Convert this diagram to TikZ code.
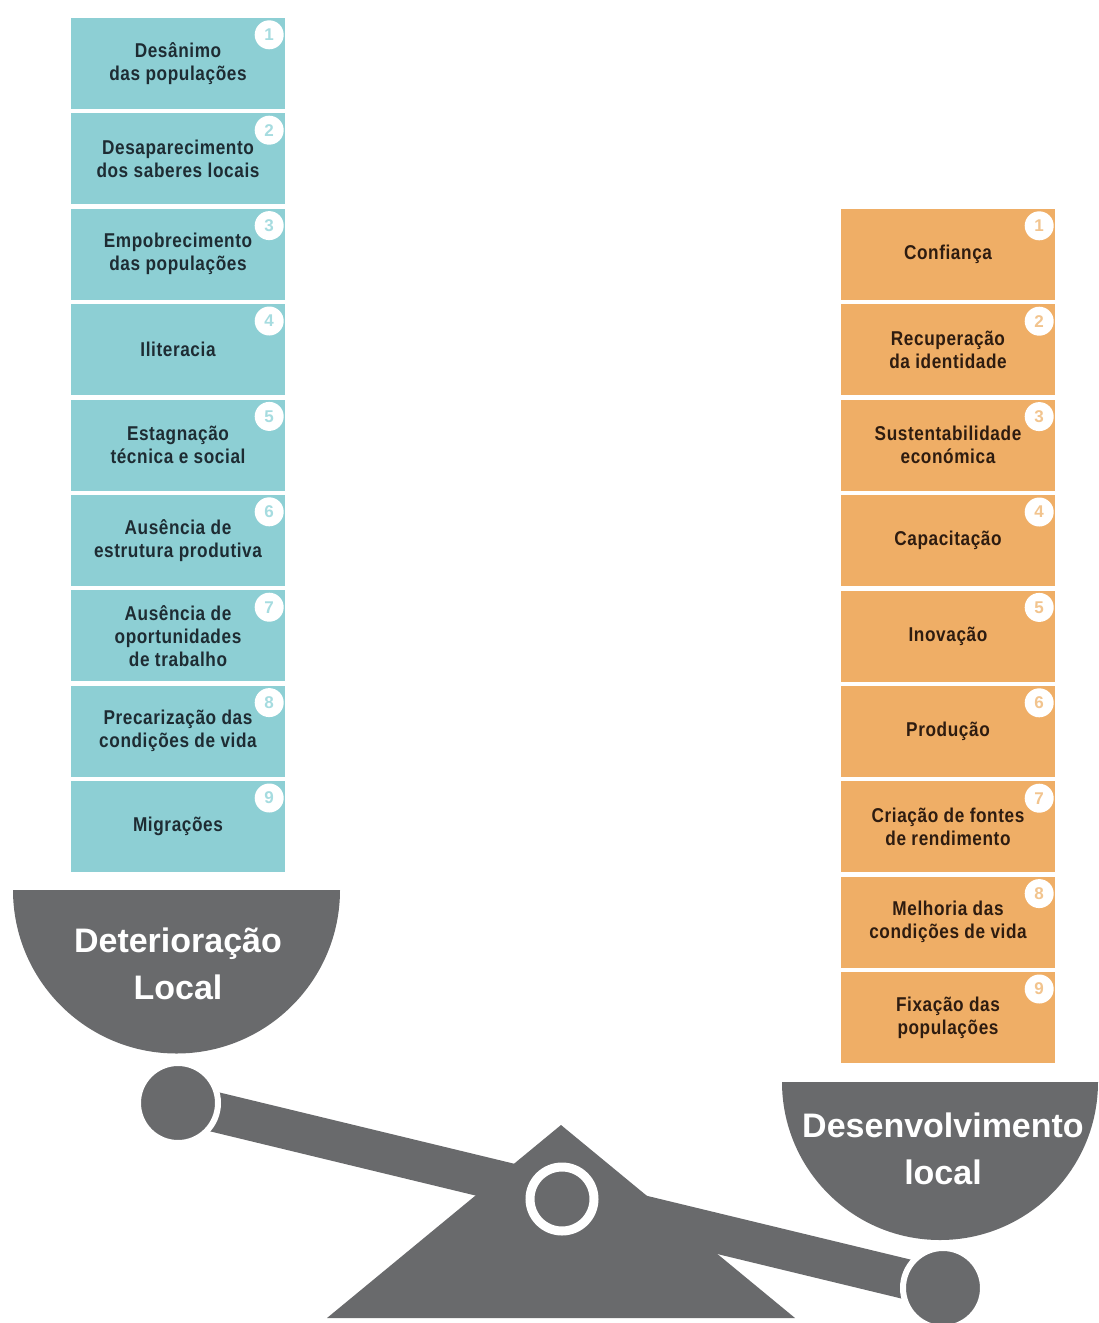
\documentclass[tikz,border=0pt]{standalone}
\usepackage{fontspec}
\setmainfont{Liberation Sans}
\newfontfamily\condfont[FakeStretch=0.86,LetterSpace=3]{Liberation Sans}
\definecolor{tealbox}{HTML}{8DCFD4}
\definecolor{tealtext}{HTML}{1E2C33}
\definecolor{tealnum}{HTML}{A6DCE0}
\definecolor{orgbox}{HTML}{EFAE66}
\definecolor{orgtext}{HTML}{2E1C10}
\definecolor{orgnum}{HTML}{F2C48E}
\definecolor{pangrey}{HTML}{696A6C}
\begin{document}
\begin{tikzpicture}[x=1pt,y=-1pt,
  itembox/.style={minimum width=214pt, minimum height=91pt, inner sep=0pt, align=center,
     font=\condfont\bfseries\fontsize{20}{23}\selectfont},
  lbox/.style={itembox, fill=tealbox, text=tealtext},
  rbox/.style={itembox, fill=orgbox, text=orgtext},
  numtxt/.style={font=\bfseries\fontsize{17}{17}\selectfont, inner sep=0pt},
  pantxt/.style={font=\bfseries\fontsize{34}{47}\selectfont, text=white, align=center, inner sep=0pt},
  greyfill/.style={fill=pangrey}
]
\useasboundingbox (0,0) rectangle (1099,1323);
\fill[white] (0,0) rectangle (1099,1323);

% left column
\foreach \i/\t in {1/{Desânimo\\das populações},
                   2/{Desaparecimento\\dos saberes locais},
                   3/{Empobrecimento\\das populações},
                   4/{Iliteracia},
                   5/{Estagnação\\técnica e social},
                   6/{Ausência de\\estrutura produtiva},
                   7/{Ausência de\\oportunidades\\de trabalho},
                   8/{Precarização das\\condições de vida},
                   9/{Migrações}} {
  \node[lbox] (L\i) at (178, {63.5+95.4*(\i-1)}) {\t};
  \path (L\i.north east) ++(-16,17) coordinate (cL\i);
  \begin{scope}
    \clip (L\i.north west) rectangle (L\i.south east);
    \fill[white] (cL\i) circle (14.5);
  \end{scope}
  \node[numtxt, text=tealnum] (nL\i) at (cL\i) {\i};
}

% right column
\foreach \i/\t in {1/{Confiança},
                   2/{Recuperação\\da identidade},
                   3/{Sustentabilidade\\económica},
                   4/{Capacitação},
                   5/{Inovação},
                   6/{Produção},
                   7/{Criação de fontes\\de rendimento},
                   8/{Melhoria das\\condições de vida},
                   9/{Fixação das\\populações}} {
  \node[rbox] (R\i) at (948, {254.5+95.4*(\i-1)}) {\t};
  \path (R\i.north east) ++(-16,17) coordinate (cR\i);
  \begin{scope}
    \clip (R\i.north west) rectangle (R\i.south east);
    \fill[white] (cR\i) circle (14.5);
  \end{scope}
  \node[numtxt, text=orgnum] (nR\i) at (cR\i) {\i};
}

% pans
\fill[greyfill] (13,890) arc[start angle=180, end angle=0, radius=163.5] -- cycle;
\node[pantxt] (panL) at (178,964) {Deterioração\\Local};
\fill[greyfill] (782,1082) arc[start angle=180, end angle=0, radius=158] -- cycle;
\node[pantxt] (panR) at (943,1149) {Desenvolvimento\\local};

% fulcrum
\fill[greyfill] (327,1318) -- (561,1125) -- (795,1318) -- cycle;
% beam
\coordinate (ballL) at (178,1103);
\coordinate (ballR) at (943,1288);
\draw[pangrey, line width=40pt] (ballL) -- (ballR);
% pivot ring
\coordinate (pivot) at (562,1199);
\draw[white, line width=9pt] (pivot) circle (32);
% balls
\fill[pangrey, draw=white, line width=6pt] (ballL) circle (40);
\fill[pangrey, draw=white, line width=6pt] (ballR) circle (40);
\end{tikzpicture}
\end{document}
